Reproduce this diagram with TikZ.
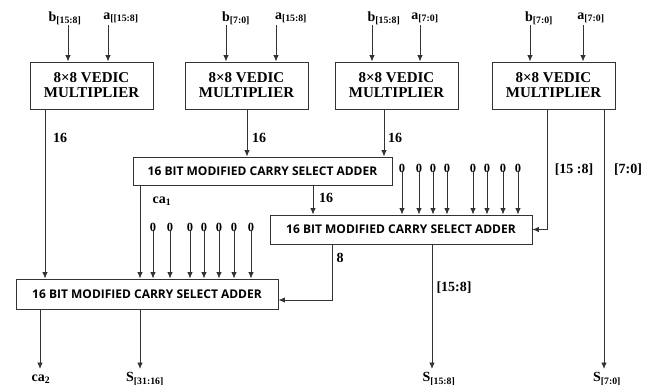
\documentclass[tikz,border=0pt]{standalone}
\usepackage{fontspec}
\setmainfont{Liberation Serif}
\newfontfamily\csafont{Open Sans}
\usetikzlibrary{arrows,arrows.meta}

\begin{document}
\begin{tikzpicture}[x=1pt,y=-1pt,
  wire/.style={draw=black!80, line width=0.9pt},
  arr/.style={wire,-{Latex[length=6.5pt,width=5.5pt]}},
  vedic/.style={draw=black!80, line width=0.9pt, minimum width=123pt, minimum height=47pt, inner sep=0pt, align=center, font=\fontsize{15}{15}\selectfont\bfseries},
  csa/.style={draw=black!80, line width=0.9pt, minimum width=262pt, minimum height=29pt, inner sep=0pt, font=\csafont\fontsize{12}{14}\selectfont\bfseries},
  lbl/.style={inner sep=0pt, font=\fontsize{14}{16}\selectfont\bfseries},
  zero/.style={inner sep=0pt, font=\fontsize{12.5}{14}\selectfont\bfseries}
]
\useasboundingbox (0,0) rectangle (653,385);

% multipliers
\node[vedic] (mult1) at (91.5,85.5) {8×8 VEDIC\\MULTIPLIER};
\node[vedic] (mult2) at (246.5,85.5) {8×8 VEDIC\\MULTIPLIER};
\node[vedic] (mult3) at (396.5,85.5) {8×8 VEDIC\\MULTIPLIER};
\node[vedic] (mult4) at (553.5,85.5) {8×8 VEDIC\\MULTIPLIER};

% adders
\node[csa, minimum width=259pt, minimum height=28pt] (csa1) at (262.5,171) {16 BIT MODIFIED CARRY SELECT ADDER};
\node[csa] (csa2) at (401,229.5) {16 BIT MODIFIED CARRY SELECT ADDER};
\node[csa, minimum height=30pt] (csa3) at (147,294) {16 BIT MODIFIED CARRY SELECT ADDER};

% inputs
\node[lbl] (b1) at (65,18) {b\textsubscript{[15:8]}};
\node[lbl] (a1) at (121,18) {a\textsubscript{[[15:8]}};
\node[lbl] (b2) at (236,18) {b\textsubscript{[7:0]}};
\node[lbl] (a2) at (291,18) {a\textsubscript{[15:8]}};
\node[lbl] (b3) at (384,18) {b\textsubscript{[15:8]}};
\node[lbl] (a3) at (425,18) {a\textsubscript{[7:0]}};
\node[lbl] (b4) at (539,18) {b\textsubscript{[7:0]}};
\node[lbl] (a4) at (591,18) {a\textsubscript{[7:0]}};

\foreach \xi/\m in {68/1,108/1,226/2,276/2,372/3,420/3,530/4,583/4}{
\coordinate (in) at (\xi,25);
\draw[arr] (in) -- (in |- mult\m.north);
}

% multiplier outputs
\coordinate (m1o) at (45,0);
\coordinate (m2o) at (247,0);
\coordinate (m3o) at (384,0);
\coordinate (m4l) at (547,0);
\coordinate (m4r) at (604,0);
\draw[arr] (mult1.south -| m1o) -- (csa3.north -| m1o);
\draw[arr] (mult2.south -| m2o) -- (csa1.north -| m2o);
\draw[arr] (mult3.south -| m3o) -- (csa1.north -| m3o);
\draw[arr] (mult4.south -| m4l) |- (csa2.east);
\node[lbl] (w1) at (60,138) {16};
\node[lbl] (w2) at (259,138) {16};
\node[lbl] (w3) at (395,138) {16};
\node[lbl] (w4) at (574,170) {[15 :8]};
\node[lbl] (w5) at (628,170) {[7:0]};

% first adder outputs
\coordinate (c1l) at (140,0);
\coordinate (c1r) at (313,0);
\draw[arr] (csa1.south -| c1l) -- (csa3.north -| c1l);
\draw[arr] (csa1.south -| c1r) -- (csa2.north -| c1r);
\node[lbl] (ca1) at (162,201) {ca\textsubscript{1}};
\node[lbl] (w6) at (326,198) {16};

% zeros
\foreach \xz [count=\i] in {402,419,433,447,473,487,503,518}{
\node[zero] (za\i) at (\xz,168) {0};
\draw[arr] (za\i.south) -- (za\i.south |- csa2.north);
}
\foreach \xz [count=\i] in {153,170,190,204,219,234,251}{
\node[zero] (zb\i) at (\xz,227) {0};
\draw[arr] (zb\i.south) -- (zb\i.south |- csa3.north);
}

% second adder outputs
\coordinate (c2l) at (332,0);
\coordinate (c2r) at (432,0);
\draw[arr] (csa2.south -| c2l) |- ([yshift=-6pt]csa3.east);
\node[lbl] (w7) at (340,258) {8};
\node[lbl] (w8) at (454,288) {[15:8]};

% results
\coordinate (bot) at (0,369);
\coordinate (c3l) at (40,0);
\node[lbl] (ca2) at (41,379) {ca\textsubscript{2}};
\node[lbl] (s1) at (145,379) {S\textsubscript{[31:16]}};
\node[lbl] (s2) at (439,379) {S\textsubscript{[15:8]}};
\node[lbl] (s3) at (607,379) {S\textsubscript{[7:0]}};
\draw[arr] (csa3.south -| c3l) -- (c3l |- bot);
\draw[arr] (csa3.south -| c1l) -- (c1l |- bot);
\draw[arr] (csa2.south -| c2r) -- (c2r |- bot);
\draw[arr] (mult4.south -| m4r) -- (m4r |- bot);

\end{tikzpicture}
\end{document}
